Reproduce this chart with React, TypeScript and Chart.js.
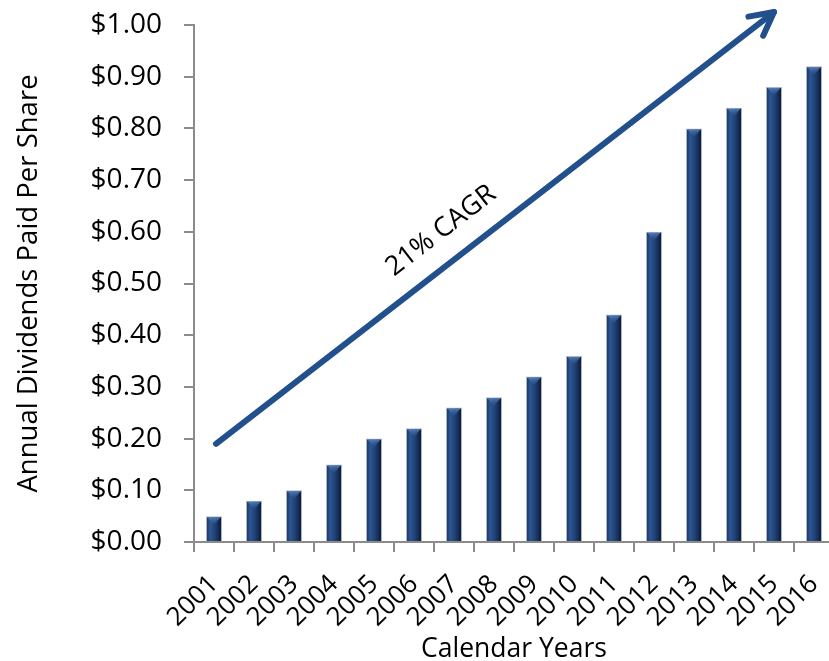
import React, { useEffect, useRef } from 'react';
import { Chart, registerables } from 'chart.js';

Chart.register(...registerables);

const years = ['2001', '2002', '2003', '2004', '2005', '2006', '2007', '2008', '2009', '2010', '2011', '2012', '2013', '2014', '2015', '2016'];
const dividends = [0.05, 0.08, 0.10, 0.15, 0.20, 0.22, 0.26, 0.28, 0.32, 0.36, 0.44, 0.60, 0.80, 0.84, 0.88, 0.92];
const yMin = 0;
const yMax = 1.0;
const yStep = 0.1;
const yTitle = 'Annual Dividends Paid Per Share';
const xTitle = 'Calendar Years';
const cagrLabel = '21% CAGR';
// arrow annotation in data units (category index, value)
const arrowStart = [0.05, 0.19];
const arrowEnd = [14.0, 1.025];
const labelPos = [5.675, 0.602];

const FONT = "'Open Sans', 'DejaVu Sans', sans-serif";
const AXIS = '#8c8c8c';
const BAR_PCT = 0.4;

const arrowPlugin = {
  id: 'cagrArrow',
  afterDatasetsDraw(chart: any) {
    const { ctx } = chart;
    const x = chart.scales.x;
    const y = chart.scales.y;
    // bevel caps on bar tops
    const meta = chart.getDatasetMeta(0);
    ctx.save();
    meta.data.forEach((bar: any) => {
      const half = bar.width / 2 - 1.5;
      const top = bar.y + 1;
      const g = ctx.createLinearGradient(0, top, 0, top + 8);
      g.addColorStop(0, 'rgba(80,125,185,0.95)');
      g.addColorStop(1, 'rgba(45,85,145,0.2)');
      ctx.fillStyle = g;
      ctx.beginPath();
      ctx.moveTo(bar.x - half, top);
      ctx.lineTo(bar.x + half, top);
      ctx.lineTo(bar.x, top + 8);
      ctx.closePath();
      ctx.fill();
    });
    ctx.restore();

    const x0 = x.getPixelForValue(arrowStart[0]);
    const y0 = y.getPixelForValue(arrowStart[1]);
    const x1 = x.getPixelForValue(arrowEnd[0]);
    const y1 = y.getPixelForValue(arrowEnd[1]);
    const ang = Math.atan2(y1 - y0, x1 - x0);
    ctx.save();
    ctx.strokeStyle = '#22508c';
    ctx.lineWidth = 6;
    ctx.lineCap = 'round';
    ctx.lineJoin = 'round';
    ctx.beginPath();
    ctx.moveTo(x0, y0);
    ctx.lineTo(x1, y1);
    ctx.stroke();
    const head = 26;
    const spread = Math.PI / 6.5;
    ctx.beginPath();
    ctx.moveTo(x1 - head * Math.cos(ang - spread), y1 - head * Math.sin(ang - spread));
    ctx.lineTo(x1, y1);
    ctx.lineTo(x1 - head * Math.cos(ang + spread), y1 - head * Math.sin(ang + spread));
    ctx.stroke();
    // label
    const tx = x.getPixelForValue(labelPos[0]);
    const ty = y.getPixelForValue(labelPos[1]);
    ctx.translate(tx, ty);
    ctx.rotate(ang);
    ctx.fillStyle = '#000';
    ctx.font = `27px ${FONT}`;
    ctx.textAlign = 'center';
    ctx.textBaseline = 'middle';
    ctx.fillText(cagrLabel, 0, 0);
    ctx.restore();
  },
};

function barFill(c: any) {
  const chart = c.chart;
  const xs = chart.scales?.x;
  if (!xs || c.dataIndex === undefined || !chart.chartArea) return '#1d3a6b';
  const cx = xs.getPixelForValue(c.dataIndex);
  const half = ((xs.getPixelForValue(1) - xs.getPixelForValue(0)) * BAR_PCT) / 2;
  const g = chart.ctx.createLinearGradient(cx - half, 0, cx + half, 0);
  g.addColorStop(0, '#1a3461');
  g.addColorStop(0.28, '#2c5592');
  g.addColorStop(0.6, '#1e3d70');
  g.addColorStop(1, '#081530');
  return g;
}

export default function App() {
  const ref = useRef<HTMLCanvasElement>(null);
  useEffect(() => {
    if (!ref.current) return;
    const chart = new Chart(ref.current, {
      type: 'bar',
      data: {
        labels: years,
        datasets: [
          {
            data: dividends,
            backgroundColor: barFill,
            borderColor: 'rgba(165,172,185,0.9)',
            borderWidth: 1,
            barPercentage: BAR_PCT,
            categoryPercentage: 1,
          },
        ],
      },
      options: {
        responsive: false,
        animation: false,
        devicePixelRatio: 1,
        layout: { padding: { top: 25, right: 11, bottom: 0, left: 0 } },
        plugins: { legend: { display: false }, tooltip: { enabled: false } },
        scales: {
          x: {
            offset: true,
            grid: {
              display: true,
              offset: true,
              drawOnChartArea: false,
              drawTicks: true,
              tickLength: 10,
              color: AXIS,
              lineWidth: 2,
            },
            border: { display: true, color: AXIS, width: 2 },
            ticks: {
              color: '#000',
              font: { family: FONT, size: 26 },
              maxRotation: 45,
              minRotation: 45,
              autoSkip: false,
              padding: 17,
            },
            title: {
              display: true,
              text: xTitle,
              color: '#000',
              font: { family: FONT, size: 26.5, lineHeight: 0.9 },
              padding: { top: 0, bottom: 0 },
            },
            afterFit: (s: any) => {
              s.height = 119;
              s.paddingLeft = 0;
              s.paddingRight = 0;
            },
          },
          y: {
            min: yMin,
            max: yMax,
            grid: {
              display: true,
              drawOnChartArea: false,
              drawTicks: true,
              tickLength: 10,
              color: AXIS,
              lineWidth: 2,
            },
            border: { display: true, color: AXIS, width: 2 },
            ticks: {
              stepSize: yStep,
              color: '#000',
              font: { family: FONT, size: 28 },
              padding: 22,
              callback: (v: any) => '$' + Number(v).toFixed(2),
            },
            title: {
              display: true,
              text: yTitle,
              color: '#000',
              font: { family: FONT, size: 27.5 },
              padding: { top: 13, bottom: 0 },
            },
            afterFit: (s: any) => {
              s.width = 194;
              s.paddingTop = 0;
              s.paddingBottom = 0;
            },
          },
        },
      },
      plugins: [arrowPlugin],
    });
    return () => chart.destroy();
  }, []);
  return (
    <div style={{ position: 'fixed', left: 0, top: 0, width: 829, height: 661, overflow: 'hidden', background: '#fff' }}>
      <canvas ref={ref} width={845} height={661} style={{ display: 'block' }} />
    </div>
  );
}
